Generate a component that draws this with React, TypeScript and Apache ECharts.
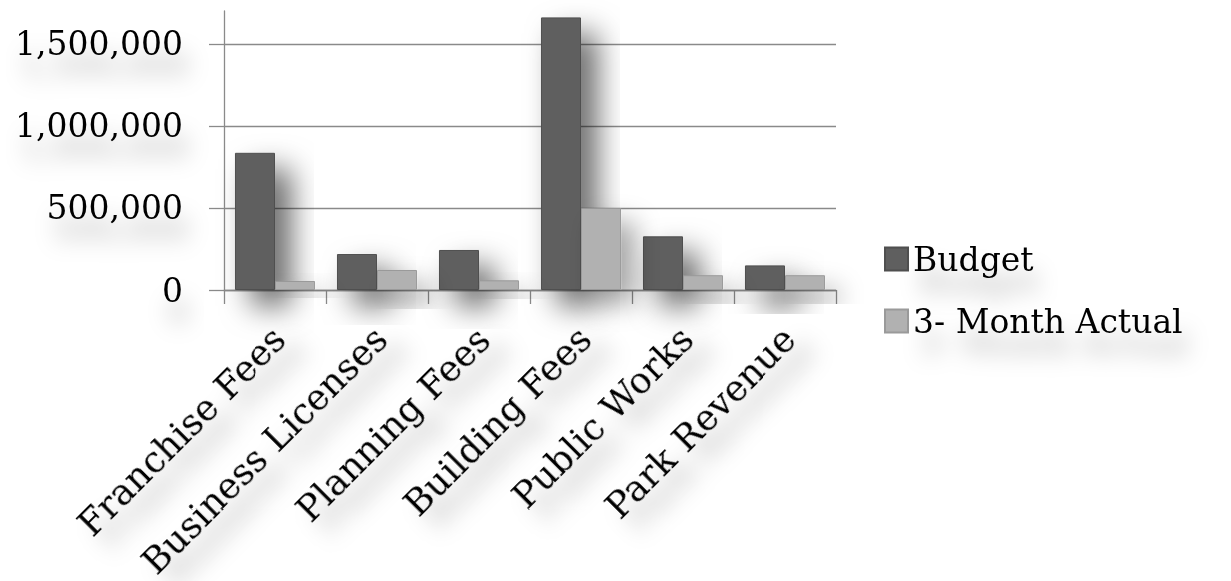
import React, { useEffect, useRef } from "react";
import * as echarts from "echarts";

const categories = [
  "Franchise Fees",
  "Business Licenses",
  "Planning Fees",
  "Building Fees",
  "Public Works",
  "Park Revenue",
];
const seriesNames = ["Budget", "3- Month Actual"];
const budgetValues = [836000, 219000, 244000, 1661000, 327000, 150000];
const actualValues = [55000, 122000, 59000, 500000, 90000, 90000];
const yMin = 0;
const yMax = 1700000;
const yInterval = 500000;

const FONT = "DejaVu Serif";
const textShadow = {
  textShadowColor: "rgba(0,0,0,0.33)",
  textShadowBlur: 22,
  textShadowOffsetX: 6,
  textShadowOffsetY: 22,
};

export default function App() {
  const ref = useRef<HTMLDivElement>(null);
  useEffect(() => {
    document.body.style.margin = "0";
    const chart = echarts.init(ref.current!, null, { renderer: "svg" });
    chart.setOption({
      animation: false,
      backgroundColor: "#ffffff",
      grid: {
        left: 224,
        right: 395,
        top: 11,
        bottom: 291,
        containLabel: false,
        outerBoundsMode: "none",
      },
      legend: {
        orient: "vertical",
        left: 879,
        top: 234,
        itemWidth: 23,
        itemHeight: 23,
        itemGap: 22,
        itemTextGap: 13,
        icon: "rect",
        data: seriesNames,
        textStyle: {
          fontFamily: FONT,
          fontSize: 33,
          color: "#000",
          lineHeight: 40,
          ...textShadow,
        },
      },
      xAxis: {
        type: "category",
        data: categories,
        axisLine: { show: true, lineStyle: { color: "#8a8a8a", width: 1.3 } },
        axisTick: { show: true, length: 14, lineStyle: { color: "#8a8a8a", width: 1.3 } },
        axisLabel: {
          interval: 0,
          rotate: 45,
          margin: 22,
          padding: [0, 12, 0, 0],
          verticalAlign: "top",
          fontFamily: FONT,
          fontSize: 36,
          color: "#000",
          ...textShadow,
        },
      },
      yAxis: {
        type: "value",
        min: yMin,
        max: yMax,
        interval: yInterval,
        axisLine: { show: true, lineStyle: { color: "#8a8a8a", width: 1.3 } },
        axisTick: { show: true, length: 15, lineStyle: { color: "#8a8a8a", width: 1.3 } },
        splitLine: { show: true, showMaxLine: false, lineStyle: { color: "#8a8a8a", width: 1.3 } },
        axisLabel: {
          showMaxLabel: false,
          margin: 41,
          fontFamily: FONT,
          fontSize: 33,
          color: "#000",
          formatter: (v: number) => v.toLocaleString("en-US"),
          ...textShadow,
        },
      },
      series: [
        {
          name: seriesNames[0],
          type: "bar",
          data: budgetValues,
          barGap: "0%",
          barCategoryGap: "21.5%",
          itemStyle: {
            color: "#5f5f5f",
            borderColor: "#4f4f4f",
            borderWidth: 1,
            shadowColor: "rgba(0,0,0,0.6)",
            shadowBlur: 30,
            shadowOffsetX: 16,
            shadowOffsetY: 16,
          },
        },
        {
          name: seriesNames[1],
          type: "bar",
          data: actualValues,
          barGap: "0%",
          barCategoryGap: "21.5%",
          itemStyle: {
            color: "#b1b1b1",
            borderColor: "#9a9a9a",
            borderWidth: 1,
            shadowColor: "rgba(0,0,0,0.35)",
            shadowBlur: 26,
            shadowOffsetX: 14,
            shadowOffsetY: 14,
          },
        },
      ],
    });
    return () => chart.dispose();
  }, []);
  return <div ref={ref} style={{ width: 1231, height: 581 }} />;
}
